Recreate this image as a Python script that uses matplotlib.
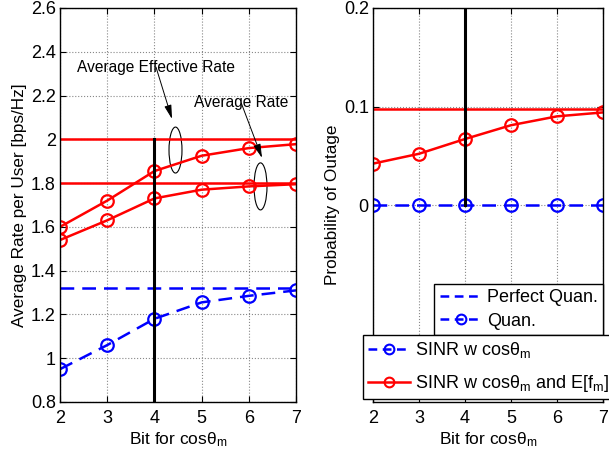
import matplotlib
matplotlib.use("Agg")
import matplotlib.pyplot as plt
from matplotlib.lines import Line2D
from matplotlib.patches import Ellipse

plt.rcParams['font.family'] = ['Liberation Sans', 'DejaVu Sans']
plt.rcParams['mathtext.fontset'] = 'custom'
plt.rcParams['mathtext.rm'] = 'Liberation Sans'
plt.rcParams['mathtext.it'] = 'Liberation Sans'

# --- data ---
bits = [2, 3, 4, 5, 6, 7]
rate_eff = [1.60, 1.72, 1.855, 1.925, 1.96, 1.978]
rate_avg = [1.54, 1.63, 1.73, 1.77, 1.785, 1.795]
rate_quan = [0.95, 1.06, 1.18, 1.255, 1.285, 1.31]
rate_eff_ref = 2.0
rate_avg_ref = 1.80
rate_perfect = 1.32

out_red = [0.042, 0.052, 0.067, 0.081, 0.090, 0.094]
out_blue = [0, 0, 0, 0, 0, 0]
out_red_ref = 0.097

xlabel = r"Bit for cos$\mathregular{\theta_m}$"
DASH = (5.5, 3.2)

fig = plt.figure(figsize=(6.09, 4.59), dpi=100)
ax1 = fig.add_axes([60/609, 1-402/459, 236/609, 394/459])
ax2 = fig.add_axes([373/609, 1-402/459, 230/609, 394/459])

mk = dict(marker='o', markersize=9, markerfacecolor='none', markeredgewidth=1.6)

# --- left panel ---
ax1.plot([2, 7], [rate_eff_ref]*2, color='red', lw=1.8)
ax1.plot([2, 7], [rate_avg_ref]*2, color='red', lw=1.8)
ax1.plot([2, 7], [rate_perfect]*2, color='blue', lw=1.8, ls='--', dashes=DASH)
ax1.plot(bits, rate_eff, color='red', lw=1.8, **mk)
ax1.plot(bits, rate_avg, color='red', lw=1.8, **mk)
ax1.plot(bits, rate_quan, color='blue', lw=1.8, ls='--', dashes=DASH, **mk)
ax1.plot([4, 4], [0.8, 2.0], color='black', lw=2.2)

ax1.set_xlim(2, 7)
ax1.set_ylim(0.8, 2.6)
ax1.set_xticks(bits)
ax1.set_yticks([0.8, 1, 1.2, 1.4, 1.6, 1.8, 2, 2.2, 2.4, 2.6])
ax1.set_yticklabels(['0.8', '1', '1.2', '1.4', '1.6', '1.8', '2', '2.2', '2.4', '2.6'])
ax1.set_xlabel(xlabel, fontsize=12.5, labelpad=2)
ax1.set_ylabel("Average Rate per User [bps/Hz]", fontsize=12.3, labelpad=3)

ax1.add_patch(Ellipse((4.447, 1.951), 0.275, 0.21, fill=False, ec='black', lw=0.8))
ax1.add_patch(Ellipse((6.248, 1.785), 0.275, 0.215, fill=False, ec='black', lw=0.8))
arrow = dict(arrowstyle='-|>,head_width=0.18,head_length=0.7', color='black', lw=0.7,
             shrinkA=0, shrinkB=0, mutation_scale=12, patchA=None)
ax1.annotate("Average Effective Rate", xy=(4.373, 2.093), xytext=(2.36, 2.33),
             fontsize=11.2, va='center', ha='left', arrowprops=arrow)
ax1.annotate("Average Rate", xy=(6.28, 1.915), xytext=(4.84, 2.166),
             fontsize=11.2, va='center', ha='left', arrowprops=arrow)

# --- right panel ---
ax2.plot([2, 7], [out_red_ref]*2, color='red', lw=1.8)
ax2.plot(bits, out_red, color='red', lw=1.8, **mk)
ax2.plot(bits, out_blue, color='blue', lw=1.8, ls='--', dashes=DASH, **mk)
ax2.plot([4, 4], [0, 0.2], color='black', lw=2.2)

ax2.set_xlim(2, 7)
ax2.set_ylim(-0.2, 0.2)
ax2.set_xticks(bits)
ax2.set_yticks([0, 0.1, 0.2])
ax2.set_yticklabels(['0', '0.1', '0.2'])
ax2.set_xlabel(xlabel, fontsize=12.5, labelpad=2)
ax2.set_ylabel("Probability of Outage", fontsize=12.3, labelpad=3)

for ax in (ax1, ax2):
    ax.grid(True, color='#888888', ls=':', lw=0.8)
    ax.set_axisbelow(True)
    ax.tick_params(direction='in', top=True, right=True, labelsize=13, length=4)
    ax.tick_params(axis='x', pad=6)
    ax.tick_params(axis='y', pad=3)
    for sp in ax.spines.values():
        sp.set_linewidth(1.0)

# --- legends ---
lmk = dict(marker='o', markersize=7, markerfacecolor='none', markeredgewidth=1.5)
h_perf = Line2D([], [], color='blue', lw=1.8, ls='--', dashes=(3.5, 2.2))
h_quan = Line2D([], [], color='blue', lw=1.8, ls='--', dashes=(3.5, 2.2), **lmk)
h_sinr = Line2D([], [], color='blue', lw=1.8, ls='--', dashes=(3.5, 2.2), **lmk)
h_sinr_e = Line2D([], [], color='red', lw=1.8, **lmk)

legkw = dict(bbox_transform=fig.transFigure, borderaxespad=0,
             fontsize=13, handlelength=2.3, handletextpad=0.3,
             fancybox=False, edgecolor='black', framealpha=1)
leg1 = fig.legend([h_perf, h_quan], ["Perfect Quan.", "Quan."],
                  loc='upper right', bbox_to_anchor=(603/609, 1-284/459),
                  labelspacing=0.35, borderpad=0.3, **legkw)
leg1.get_frame().set_linewidth(1.0)
leg2 = fig.legend([h_sinr, h_sinr_e],
                  [r"SINR w cos$\mathregular{\theta_m}$",
                   r"SINR w cos$\mathregular{\theta_m}$ and E[f$\mathregular{_m}$]"],
                  loc='upper left', bbox_to_anchor=(363/609, 1-335/459),
                  labelspacing=0.7, borderpad=0.3, **legkw)
leg2.get_frame().set_linewidth(1.0)

fig.savefig("out.png", dpi=100)
